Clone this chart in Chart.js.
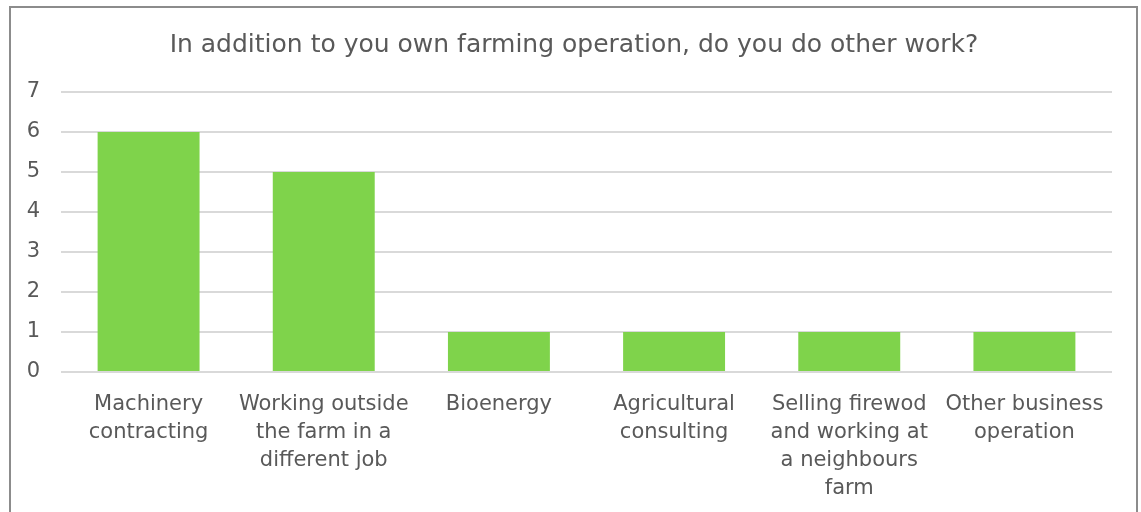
<!DOCTYPE html>
<html>
<head>
<meta charset="utf-8">
<script src="https://cdn.jsdelivr.net/npm/chart.js@4.4.0/dist/chart.umd.min.js"></script>
<style>
  html, body { margin: 0; padding: 0; background: #fff; }
  #wrap { position: relative; width: 1141px; height: 512px; overflow: hidden; }
  #frame { position: absolute; left: 9px; top: 6px; width: 1129px; height: 540px;
           border: 2px solid #8c8c8c; box-sizing: border-box; pointer-events: none; }
  canvas { position: absolute; left: 0; top: 0; }
</style>
</head>
<body>
<div id="wrap">
  <canvas id="chart" width="1141" height="512"></canvas>
  <div id="frame"></div>
</div>
<script>
// categories, already wrapped as in the original
var categories = [
  ["Machinery", "contracting"],
  ["Working outside", "the farm in a", "different job"],
  ["Bioenergy"],
  ["Agricultural", "consulting"],
  ["Selling firewod", "and working at", "a neighbours", "farm"],
  ["Other business", "operation"]
];
var counts = [6, 5, 1, 1, 1, 1];
var chartTitle = "In addition to you own farming operation, do you do other work?";

var textColor = "#595959";
var fontFamily = "'DejaVu Sans', sans-serif";

// title centred on the framed box rather than on the plot, like the original
var frameTitle = {
  id: "frameTitle",
  afterDraw: function(chart) {
    var c = chart.ctx;
    c.save();
    c.font = "25px " + fontFamily;
    c.fillStyle = textColor;
    c.textAlign = "center";
    c.textBaseline = "middle";
    c.fillText(chartTitle, 574, 45);
    c.restore();
  }
};

var ctx = document.getElementById("chart").getContext("2d");
new Chart(ctx, {
  type: "bar",
  data: {
    labels: categories,
    datasets: [{
      data: counts,
      backgroundColor: "#7fd34b",
      borderWidth: 0,
      categoryPercentage: 1.0,
      barPercentage: 0.582
    }]
  },
  plugins: [frameTitle],
  options: {
    responsive: false,
    animation: false,
    layout: { padding: { left: 0, right: 29, top: 92, bottom: 0 } },
    plugins: {
      legend: { display: false },
      tooltip: { enabled: false },
      title: { display: false }
    },
    scales: {
      y: {
        min: 0,
        max: 7,
        ticks: {
          stepSize: 1,
          color: textColor,
          padding: 21,
          font: { family: fontFamily, size: 21 }
        },
        grid: { color: "#d9d9d9", lineWidth: 2, drawTicks: false },
        border: { display: false },
        afterFit: function(scale) { scale.width = 61; }
      },
      x: {
        ticks: {
          color: textColor,
          padding: 19,
          maxRotation: 0,
          autoSkip: false,
          font: { family: fontFamily, size: 21, lineHeight: 1.333 }
        },
        grid: { display: false, drawTicks: false },
        border: { display: false },
        afterFit: function(scale) { scale.height = 140; }
      }
    }
  }
});
</script>
</body>
</html>
